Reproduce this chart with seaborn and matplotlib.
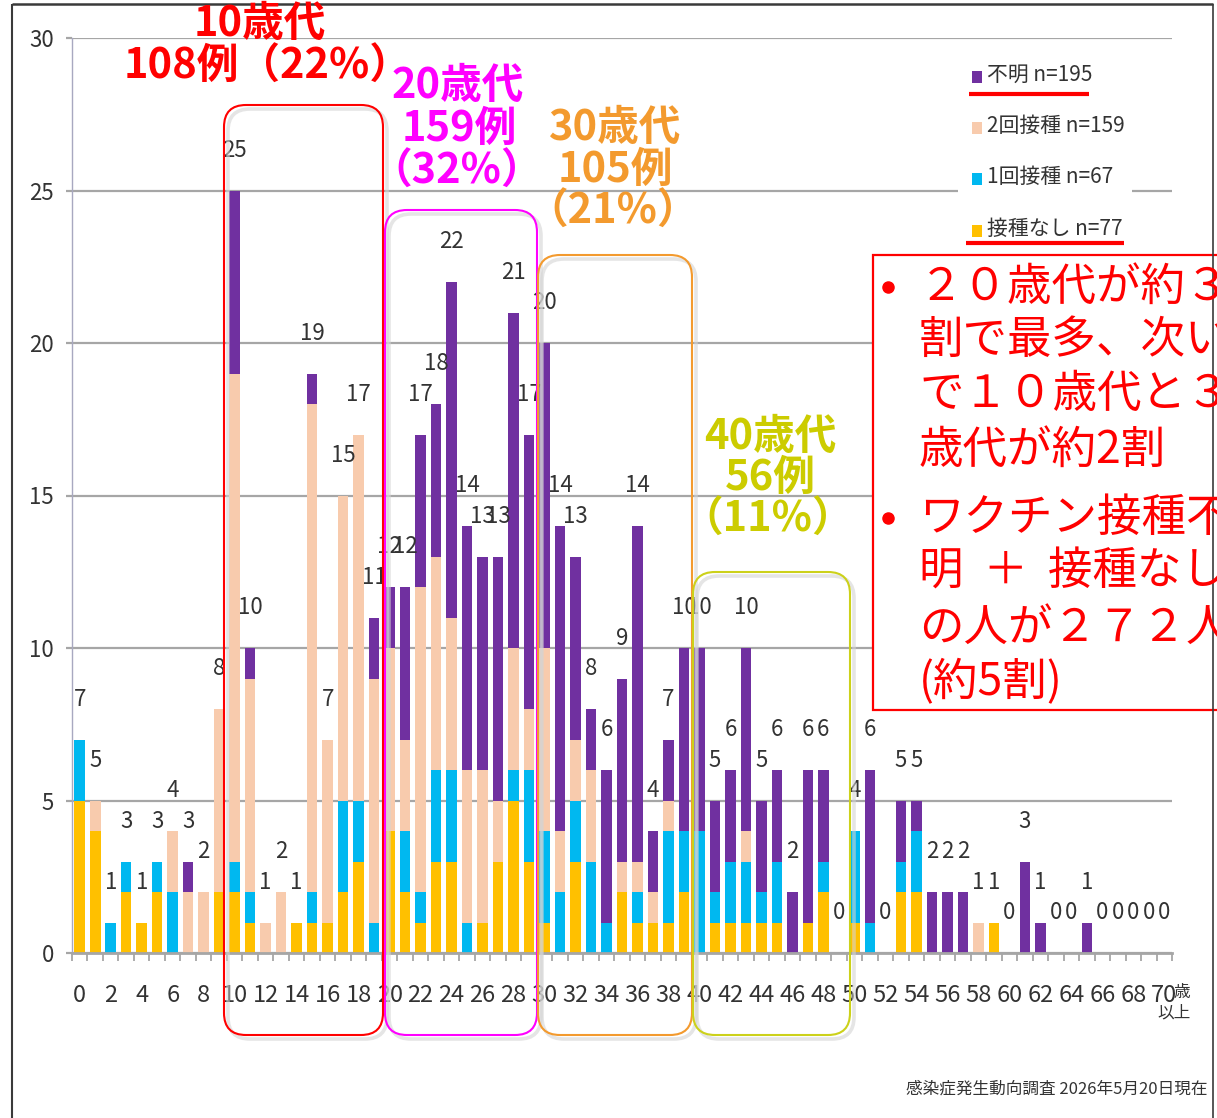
import matplotlib
matplotlib.use("Agg")
import matplotlib.pyplot as plt
import numpy as np
import pandas as pd
import seaborn as sns
from matplotlib.patches import FancyBboxPatch, Rectangle

# ---------------- data ----------------
ages = list(range(71))
no_vacc = [5, 4, 0, 2, 1, 2, 0, 0, 0, 2,
           2, 1, 0, 0, 1, 1, 1, 2, 3, 0,
           4, 2, 1, 3, 3, 0, 1, 3, 5, 3,
           1, 0, 3, 0, 0, 2, 1, 1, 1, 2,
           0, 1, 1, 1, 1, 1, 0, 1, 2, 0,
           1, 0, 0, 2, 2, 0, 0, 0, 0, 1,
           0, 0, 0, 0, 0, 0, 0, 0, 0, 0,
           0]
one_dose = [2, 0, 1, 1, 0, 1, 2, 0, 0, 0,
            1, 1, 0, 0, 0, 1, 0, 3, 2, 1,
            0, 2, 1, 3, 3, 1, 0, 0, 1, 3,
            3, 2, 2, 3, 1, 0, 1, 0, 3, 2,
            4, 1, 2, 2, 1, 2, 0, 0, 1, 0,
            3, 1, 0, 1, 2, 0, 0, 0, 0, 0,
            0, 0, 0, 0, 0, 0, 0, 0, 0, 0,
            0]
two_dose = [0, 1, 0, 0, 0, 0, 2, 2, 2, 6,
            16, 7, 1, 2, 0, 16, 6, 10, 12, 8,
            6, 3, 10, 7, 5, 5, 5, 2, 4, 2,
            6, 2, 2, 3, 0, 1, 1, 1, 1, 0,
            0, 0, 0, 1, 0, 0, 0, 0, 0, 0,
            0, 0, 0, 0, 0, 0, 0, 0, 1, 0,
            0, 0, 0, 0, 0, 0, 0, 0, 0, 0,
            0]
unknown = [0, 0, 0, 0, 0, 0, 0, 1, 0, 0,
           6, 1, 0, 0, 0, 1, 0, 0, 0, 2,
           2, 5, 5, 5, 11, 8, 7, 8, 11, 9,
           10, 10, 6, 2, 5, 6, 11, 2, 2, 6,
           6, 3, 3, 6, 3, 3, 2, 5, 3, 0,
           0, 5, 0, 2, 1, 2, 2, 2, 0, 0,
           0, 3, 1, 0, 0, 1, 0, 0, 0, 0,
           0]

legend_labels = ["不明 n=195", "2回接種 n=159", "1回接種 n=67", "接種なし n=77"]
x_tick_values = list(range(0, 71, 2))
y_tick_values = [0, 5, 10, 15, 20, 25, 30]

group_texts = [["10歳代", "108例（22%）"],
               ["20歳代", "159例", "（32%）"],
               ["30歳代", "105例", "（21%）"],
               ["40歳代", "56例", "（11%）"]]
note_lines = ["２０歳代が約３", "割で最多、次い", "で１０歳代と３０", "歳代が約2割",
              "ワクチン接種不", "明  ＋  接種なし", "の人が２７２人", "(約5割)"]
footer_text = "感染症発生動向調査 2026年5月20日現在"

# ---------------- style ----------------
C_UNK = "#7030A0"
C_TWO = "#F8CBAD"
C_ONE = "#00B8F0"
C_NONE = "#FFC000"
GRID = "#A6A6A6"
TXT = "#333333"

sns.set_theme(style="white")
plt.rcParams["font.family"] = ["Noto Sans CJK JP", "DejaVu Sans"]
NUMFONT = ["Noto Sans CJK JP", "DejaVu Sans"]
JP = ["Noto Sans CJK JP", "DejaVu Sans"]

W, H = 1217, 1118
fig = plt.figure(figsize=(W / 100, H / 100), dpi=100)
fig.patch.set_facecolor("white")

ax = fig.add_axes([72 / W, 1 - 953 / H, 1100 / W, 915 / H])
ax.set_axisbelow(True)

df = pd.DataFrame({"age": ages, "none": no_vacc, "one": one_dose,
                   "two": two_dose, "unk": unknown})
df["c1"] = df["none"]
df["c2"] = df["c1"] + df["one"]
df["c3"] = df["c2"] + df["two"]
df["c4"] = df["c3"] + df["unk"]

for col, colr in [("c4", C_UNK), ("c3", C_TWO), ("c2", C_ONE), ("c1", C_NONE)]:
    sns.barplot(data=df, x="age", y=col, color=colr, saturation=1,
                width=0.68, linewidth=0, errorbar=None, ax=ax)

ax.set_xlim(-0.5, 70.5)
ax.set_ylim(0, 30)
ax.set_xlabel("")
ax.set_ylabel("")

ax.set_yticks(y_tick_values)
ax.set_yticklabels([str(v) for v in y_tick_values], fontfamily=NUMFONT,
                   fontsize=16, color=TXT)
ax.yaxis.grid(True, color=GRID, linewidth=1.6)
ax.tick_params(axis="y", length=4, width=1.6, color=GRID, pad=9, left=True)

ax.set_xticks(x_tick_values)
ax.set_xticklabels([str(v) for v in x_tick_values], fontfamily=NUMFONT,
                   fontsize=17, color=TXT)
ax.set_xticks(np.arange(-0.5, 71, 1), minor=True)
ax.tick_params(axis="x", which="major", length=0, pad=22)
ax.tick_params(axis="x", which="minor", length=6, width=1.3, color=GRID,
               bottom=True, direction="out")

for s in ["top", "right"]:
    ax.spines[s].set_visible(False)
ax.spines["left"].set_color("#A8A8C0")
ax.spines["left"].set_linewidth(1.0)
ax.spines["bottom"].set_color(GRID)
ax.spines["bottom"].set_linewidth(2.0)

# value labels
for a, tot in zip(df["age"], df["c4"]):
    ax.annotate(str(tot), (a, tot), xytext=(0, 29), textcoords="offset points",
                ha="center", va="center", fontsize=16, color=TXT,
                fontfamily=NUMFONT)

# ---------------- overlay (pixel coordinates) ----------------
ov = fig.add_axes([0, 0, 1, 1])
ov.set_xlim(0, W)
ov.set_ylim(H, 0)
ov.axis("off")
ov.patch.set_alpha(0)
ov.set_zorder(5)

# outer frame
ov.plot([12, 12], [4, H + 5], color="#3a3a3a", lw=1.5, solid_capstyle="butt")
ov.plot([12, 1213], [4, 4], color="#3a3a3a", lw=1.8, solid_capstyle="butt")
ov.plot([1213, 1213], [4, H + 5], color="#3a3a3a", lw=1.2, solid_capstyle="butt")

# "歳 以上"
ov.text(1182, 992, "歳", fontsize=12, color=TXT, ha="center", va="center", family=JP)
ov.text(1174, 1013, "以上", fontsize=12, color=TXT, ha="center", va="center", family=JP)

# age-group boxes
boxes = [(224, 105, 383, 1035, "#FF0000"),
         (385, 210, 537, 1035, "#FF00FF"),
         (538, 255, 692, 1035, "#F39A2E"),
         (693, 572, 850, 1035, "#CCD11A")]
for x0, y0, x1, y1, c in boxes:
    sh = FancyBboxPatch((x0 + 4, y0 + 4), x1 - x0, y1 - y0,
                        boxstyle="round,pad=0,rounding_size=22",
                        fill=False, ec="#D4D4D4", lw=2.6, alpha=0.6)
    ov.add_patch(sh)
    bx = FancyBboxPatch((x0, y0), x1 - x0, y1 - y0,
                        boxstyle="round,pad=0,rounding_size=22",
                        fill=False, ec=c, lw=1.5)
    ov.add_patch(bx)

# group titles
title_specs = [(group_texts[0], "#FF0000", [(260, 24), (268, 67)]),
               (group_texts[1], "#FF00FF", [(458, 86), (459, 129), (457, 172)]),
               (group_texts[2], "#F39A2E", [(615, 128), (615, 170), (613, 212)]),
               (group_texts[3], "#CCCC00", [(770, 437), (770, 478), (768, 520)])]
for lines, c, pos in title_specs:
    for t, (x, y) in zip(lines, pos):
        ov.text(x, y, t, color=c, fontsize=30, fontweight="bold",
                ha="center", va="center", family=JP)

# legend
ov.add_patch(Rectangle((958, 52), 174, 200, fc="white", ec="none"))
leg_colors = [C_UNK, C_TWO, C_ONE, C_NONE]
leg_y = [75, 126, 177, 229]
for lab, c, y in zip(legend_labels, leg_colors, leg_y):
    ov.add_patch(Rectangle((972, y - 4), 10, 12, fc=c, ec="none"))
    ov.text(987, y, lab, fontsize=15, color=TXT, ha="left", va="center", family=JP)
ov.plot([969, 1089], [94, 94], color="#FF0000", lw=3, solid_capstyle="butt")
ov.plot([966, 1124], [243, 243], color="#FF0000", lw=3, solid_capstyle="butt")

# note box
ov.add_patch(Rectangle((873, 255), 420, 455, fc="white", ec="#FF0000", lw=1.6))
note_y = [287, 340, 394, 450, 518, 572, 628, 682]
for t, y in zip(note_lines, note_y):
    ov.text(919, y, t, fontsize=32, color="#FF0000", ha="left", va="center", family=JP)
for y in [287, 518]:
    ov.plot([888], [y], marker="o", ms=8, color="#FF0000")

# footer
ov.text(1208, 1089, footer_text, fontsize=12, color=TXT, ha="right", va="center", family=JP)

fig.savefig("out.png", dpi=100, facecolor="white")
